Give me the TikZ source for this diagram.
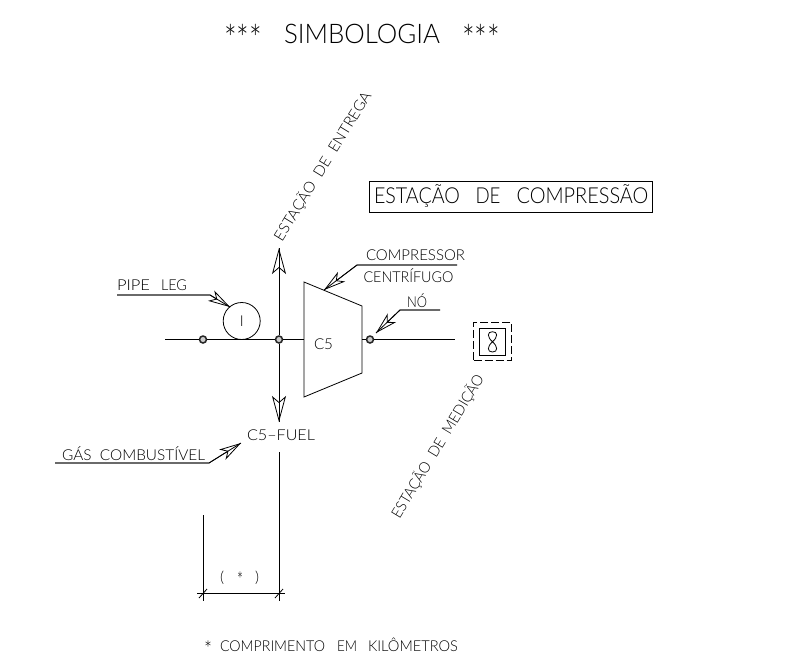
\documentclass[tikz,border=0pt]{standalone}
\usepackage{fontspec}
\usepackage{graphicx}
\setmainfont{Lato Light}
\usetikzlibrary{arrows.meta}
\newcommand{\fitw}[2]{\resizebox{#1pt}{\height}{#2}}
\newcommand{\astr}{\raisebox{-0.34em}{\scalebox{1.4}{*}}}
\tikzset{
  x=1pt,y=-1pt,
  line/.style={line width=0.8pt,black},
  bigtip/.style={line,-{Stealth[open,length=26pt,width=14pt,inset=6pt,line width=0.8pt]},postaction={draw,arrows=-}},
  leader/.style={line,-{Stealth[open,length=22pt,width=12pt,inset=6pt,line width=0.8pt]},postaction={draw,arrows=-}},
  dot/.style={circle,draw=black!85,line width=1.5pt,fill=gray!40,minimum size=7pt,inner sep=0pt},
  txt/.style={anchor=base west,inner sep=0pt,outer sep=0pt,text=black},
  lab/.style={txt,font=\fontsize{15}{15}\selectfont},
  mid/.style={anchor=base,inner sep=0pt,outer sep=0pt,text=black,font=\fontsize{15}{15}\selectfont},
  big/.style={txt,font=\fontsize{27}{27}\selectfont},
}
\begin{document}
\begin{tikzpicture}
\useasboundingbox (0,0) rectangle (808,659);
\fill[white] (0,0) rectangle (808,659);
% texts
\node[big] (title) at (224,43.5) {\fitw{38}{\astr\astr\astr}\hspace{22pt}\fitw{156}{SIMBOLOGIA}\hspace{22pt}\fitw{38}{\astr\astr\astr}};
\node[draw=black,line width=0.8pt,minimum width=283pt,minimum height=31pt,inner sep=0pt] (boxc) at (510.5,196.5) {};
\node[txt,font=\fontsize{22}{22}\selectfont] (boxt) at (374,203) {\fitw{86}{ESTAÇÃO}\hspace{15.5pt}\fitw{25}{DE}\hspace{16pt}\fitw{132}{COMPRESSÃO}};
\node[mid,rotate=58.5] (ent) at (327,169) {\fitw{172}{ESTAÇÃO~~DE~~ENTREGA}};
\node[mid,rotate=59] (med) at (442,449) {\fitw{165}{ESTAÇÃO~~DE~~MEDIÇÃO}};
\node[lab] (pl) at (117,290) {\fitw{33}{PIPE}\hspace{11pt}\fitw{26}{LEG}};
\node[lab] (cp1) at (366,260) {\fitw{99}{COMPRESSOR}};
\node[lab] (cp2) at (363.5,282) {\fitw{90}{CENTRÍFUGO}};
\node[lab] (no) at (407,307) {\fitw{20}{NÓ}};
\node[lab] (c5) at (314,349) {\fitw{19}{C5}};
\node[lab] (fuel) at (247,440) {\fitw{68}{C5--FUEL}};
\node[lab] (gas) at (62,460) {\fitw{143}{GÁS~~COMBUSTÍVEL}};
\node[lab] (st) at (220,582) {\fitw{4}{(}\hspace{13pt}\fitw{6}{\astr}\hspace{12pt}\fitw{4}{)}};
\node[lab] (foot) at (204,651.5) {\fitw{8}{\astr}\hspace{8pt}\fitw{105}{COMPRIMENTO}\hspace{12pt}\fitw{20}{EM}\hspace{11pt}\fitw{90}{KILÔMETROS}};
% main line elements
\coordinate (w) at (165,339.5);
\node[dot] (n1) at (203,339.5) {};
\node[dot] (n2) at (279,339.5) {};
\node[dot] (n3) at (370,339.5) {};
\coordinate (e) at (455,339.5);
\coordinate (cl) at (304,339.5);
\coordinate (cr) at (362,339.5);
\coordinate (up) at (279,248);
\coordinate (dn) at (279,422);
\coordinate (th1) at (262,339.5);
\coordinate (th2) at (271,339.5);
\draw[line] (w) -- (n1) -- (n2) -- (cl);
\draw[line] (cr) -- (n3) -- (e);
\draw[line width=1.6pt] (th1) -- (th2);
\draw[bigtip] (n2) -- (up);
\draw[bigtip] (n2) -- (dn);
% pipe leg
\node[circle,draw=black,line width=0.8pt,minimum size=37pt,inner sep=0pt] (pipe) at (241.7,321) {};
\node[mid] (pi) at (241.7,326.5) {I};
% compressor
\coordinate (c1) at (304,282);
\coordinate (c2) at (362,306);
\coordinate (c3) at (362,373);
\coordinate (c4) at (304,397);
\draw[line,line join=miter] (c1) -- (c2) -- (c3) -- (c4) -- cycle;
% measurement station
\node[draw=black,line width=0.8pt,dash pattern=on 8pt off 3pt,minimum width=38pt,minimum height=37.5pt,inner sep=0pt] (mo) at (492.5,341.2) {};
\node[draw=black,line width=0.8pt,minimum width=26.5pt,minimum height=26.5pt,inner sep=0pt] (mi) at (492.5,341.8) {};
\coordinate (m8t) at (492.5,331.7);
\coordinate (m8c) at (492.5,341.8);
\coordinate (m8b) at (492.5,352);
\draw[line] (m8t) .. controls (487,331.7) and (487,337) .. (m8c) .. controls (498,346.5) and (498,352) .. (m8b) .. controls (487,352) and (487,346.5) .. (m8c) .. controls (498,337) and (498,331.7) .. (m8t);
% leaders
\coordinate (a1) at (117,295); \coordinate (a2) at (210,295); \coordinate (a3) at (230,307);
\draw[leader] (a1) -- (a2) -- (a3);
\coordinate (b1) at (457,265); \coordinate (b2) at (357,265); \coordinate (b3) at (324,290);
\draw[leader] (b1) -- (b2) -- (b3);
\coordinate (d1) at (440,310); \coordinate (d2) at (400,310); \coordinate (d3) at (376,333);
\draw[leader] (d1) -- (d2) -- (d3);
\coordinate (g1) at (55,463); \coordinate (g2) at (209,463); \coordinate (g3) at (241,443);
\draw[leader] (g1) -- (g2) -- (g3);
% dimension
\coordinate (v1) at (279,452); \coordinate (v2) at (279,601);
\coordinate (l1) at (203,515); \coordinate (l2) at (203,601);
\coordinate (h1) at (197,593.5); \coordinate (h2) at (285,593.5);
\draw[line] (v1) -- (v2);
\draw[line] (l1) -- (l2);
\draw[line] (h1) -- (h2);
\coordinate (t1a) at (199,598); \coordinate (t1b) at (207,589);
\coordinate (t2a) at (275,598); \coordinate (t2b) at (283,589);
\draw[line] (t1a) -- (t1b);
\draw[line] (t2a) -- (t2b);
\end{tikzpicture}
\end{document}
